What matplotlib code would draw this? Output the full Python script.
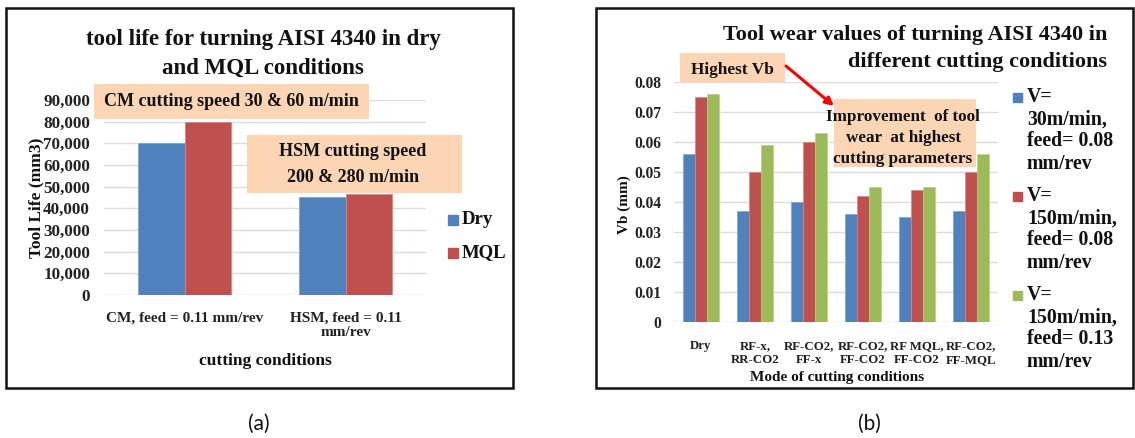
import matplotlib
matplotlib.use("Agg")
import matplotlib.pyplot as plt
import numpy as np
from matplotlib.patches import Rectangle

# ---------------- data: panel (a) ----------------
a_categories = ["CM, feed = 0.11 mm/rev", "HSM, feed = 0.11\nmm/rev"]
a_series = ["Dry", "MQL"]
a_dry = [70000, 45200]
a_mql = [80000, 46800]
a_yticks = [0, 10000, 20000, 30000, 40000, 50000, 60000, 70000, 80000, 90000]
a_title = ["tool life for turning AISI 4340 in dry", "and MQL conditions"]

# ---------------- data: panel (b) ----------------
b_categories = ["Dry", "RF-x,\nRR-CO2", "RF-CO2,\nFF-x", "RF-CO2,\nFF-CO2",
                "RF MQL,\nFF-CO2", "RF-CO2,\nFF-MQL"]
b_series = ["V=\n30m/min,\nfeed= 0.08\nmm/rev",
            "V=\n150m/min,\nfeed= 0.08\nmm/rev",
            "V=\n150m/min,\nfeed= 0.13\nmm/rev"]
b_v30_f008 = [0.056, 0.037, 0.040, 0.036, 0.035, 0.037]
b_v150_f008 = [0.075, 0.050, 0.060, 0.042, 0.044, 0.050]
b_v150_f013 = [0.076, 0.059, 0.063, 0.045, 0.045, 0.056]
b_yticks = [0, 0.01, 0.02, 0.03, 0.04, 0.05, 0.06, 0.07, 0.08]
b_title = ["Tool wear values of turning AISI 4340 in", "different cutting conditions"]

BLUE, RED, GREEN = "#4F81BD", "#C0504D", "#9BBB59"
PEACH = "#FBD5B4"
GRID = "#DCDCDC"
SERIF = "Liberation Serif"

W, H = 1135, 438
fig = plt.figure(figsize=(W / 100, H / 100), dpi=100)
fig.patch.set_facecolor("white")

def ax_px(x0, y0, x1, y1, **kw):
    return fig.add_axes([x0 / W, 1 - y1 / H, (x1 - x0) / W, (y1 - y0) / H], **kw)

def ftxt(x, y, s, **kw):
    kw.setdefault("family", SERIF)
    kw.setdefault("fontweight", "bold")
    kw.setdefault("color", "#111111")
    return fig.text(x / W, 1 - y / H, s, **kw)

def style_axes(ax, ticks, fmt, ysize, ypad):
    ax.set_facecolor("none")
    for sp in ax.spines.values():
        sp.set_visible(False)
    ax.set_yticks(ticks)
    ax.set_yticklabels([fmt(t) for t in ticks], family=SERIF, fontweight="bold",
                       fontsize=ysize, color="#222222")
    ax.tick_params(axis="both", length=0)
    ax.tick_params(axis="y", pad=ypad)
    ax.grid(axis="y", color=GRID, linewidth=1.0, zorder=0)
    ax.set_axisbelow(True)

# ---------------- panel (a) ----------------
axa = ax_px(104, 100, 426, 295)
xa = np.arange(len(a_categories))
wa = 0.286
axa.bar(xa - wa / 2, a_dry, wa, color=BLUE, edgecolor="#7FA3D3", linewidth=0.6, zorder=2)
axa.bar(xa + wa / 2, a_mql, wa, color=RED, edgecolor="#D98683", linewidth=0.6, zorder=2)
axa.set_xlim(-0.5, len(a_categories) - 0.5)
axa.set_ylim(0, 90000)
style_axes(axa, a_yticks, lambda t: f"{int(t):,}", 12.3, 10)
axa.set_xticks(xa)
axa.set_xticklabels(a_categories, family=SERIF, fontweight="bold", fontsize=11,
                    color="#222222", linespacing=1.15)
axa.tick_params(axis="x", pad=12)

ftxt(263, 39, a_title[0], fontsize=16.5, ha="center", va="center")
ftxt(263, 68, a_title[1], fontsize=16.5, ha="center", va="center")
ftxt(265, 361, "cutting conditions", fontsize=12.5, ha="center", va="center")
ftxt(36, 198, "Tool Life (mm3)", fontsize=12.5, ha="center", va="center", rotation=90)

# legend (a)
a_colors = [BLUE, RED]
for i, (lab, c) in enumerate(zip(a_series, a_colors)):
    yc = 220 + i * 33
    fig.patches.append(Rectangle((448 / W, 1 - (yc + 5) / H), 10 / W, 10 / H,
                                 transform=fig.transFigure, color=c, zorder=5))
    ftxt(462, yc, lab, fontsize=13.5, ha="left", va="center")

# ---------------- panel (b) ----------------
axb = ax_px(674, 82, 998, 322)
xb = np.arange(len(b_categories))
wb = 0.222
b_vals = [b_v30_f008, b_v150_f008, b_v150_f013]
b_colors = [BLUE, RED, GREEN]
b_edges = ["#7FA3D3", "#D98683", "#B9D08A"]
for k, (vals, c, ec) in enumerate(zip(b_vals, b_colors, b_edges)):
    axb.bar(xb + (k - 1) * wb, vals, wb, color=c, edgecolor=ec, linewidth=0.5, zorder=2)
axb.set_xlim(-0.5, len(b_categories) - 0.5)
axb.set_ylim(0, 0.08)
style_axes(axb, b_yticks, lambda t: "0" if t == 0 else f"{t:.2f}", 11.2, 9)
axb.set_xticks(xb)
axb.set_xticklabels(b_categories, family=SERIF, fontweight="bold", fontsize=9.3,
                    color="#222222", linespacing=1.2)
axb.tick_params(axis="x", pad=13)

ftxt(1107, 35, b_title[0], fontsize=16, ha="right", va="center")
ftxt(1107, 62, b_title[1], fontsize=16, ha="right", va="center")
ftxt(837, 377, "Mode of cutting conditions", fontsize=11, ha="center", va="center")
ftxt(624, 205, "Vb (mm)", fontsize=11, ha="center", va="center", rotation=90)

# legend (b)
for i, (lab, c) in enumerate(zip(b_series, b_colors)):
    y0 = 97 + i * 99
    fig.patches.append(Rectangle((1013 / W, 1 - (y0 + 4.5) / H), 9 / W, 9 / H,
                                 transform=fig.transFigure, color=c, zorder=5))
    for j, line in enumerate(lab.split("\n")):
        ftxt(1027, y0 + j * 22.2, line, fontsize=14.3, ha="left", va="center")

# ---------------- overlay: boxes, arrow, borders, labels ----------------
ov = fig.add_axes([0, 0, 1, 1], zorder=10)
ov.set_xlim(0, W)
ov.set_ylim(H, 0)
ov.axis("off")
ov.patch.set_alpha(0)

def box(x0, y0, x1, y1):
    ov.add_patch(Rectangle((x0, y0), x1 - x0, y1 - y0, facecolor=PEACH,
                           edgecolor="none", zorder=3))

def otxt(x, y, s, **kw):
    kw.setdefault("family", SERIF)
    kw.setdefault("fontweight", "bold")
    kw.setdefault("color", "#111111")
    kw.setdefault("ha", "center")
    kw.setdefault("va", "center")
    ov.text(x, y, s, zorder=4, **kw)

box(94, 84, 369, 119)
otxt(231, 102, "CM cutting speed 30 & 60 m/min", fontsize=13)
box(247, 135, 462, 193)
otxt(353, 152, "HSM cutting speed", fontsize=13)
otxt(353, 177, "200 & 280 m/min", fontsize=13)

box(680, 53, 785, 82)
otxt(732, 70, "Highest Vb", fontsize=12.4)
box(834, 99, 976, 167)
otxt(903, 117, "Improvement  of tool", fontsize=12.3)
otxt(903, 138, "wear  at highest", fontsize=12.3)
otxt(903, 159, "cutting parameters", fontsize=12.3)

ov.annotate("", xy=(834, 106), xytext=(786, 66),
            arrowprops=dict(arrowstyle="-|>", color="#FF0000", lw=2.2,
                            mutation_scale=12, shrinkA=0, shrinkB=0), zorder=5)

for (x0, y0, x1, y1) in [(6, 8, 513, 388), (596, 8, 1133, 388)]:
    ov.add_patch(Rectangle((x0, y0), x1 - x0, y1 - y0, facecolor="none",
                           edgecolor="#111111", linewidth=1.8, zorder=6))

otxt(259, 424, "(a)", family="Lato", fontweight="normal", fontsize=15)
otxt(869, 424, "(b)", family="Lato", fontweight="normal", fontsize=15)

fig.savefig("out.png", dpi=100)
